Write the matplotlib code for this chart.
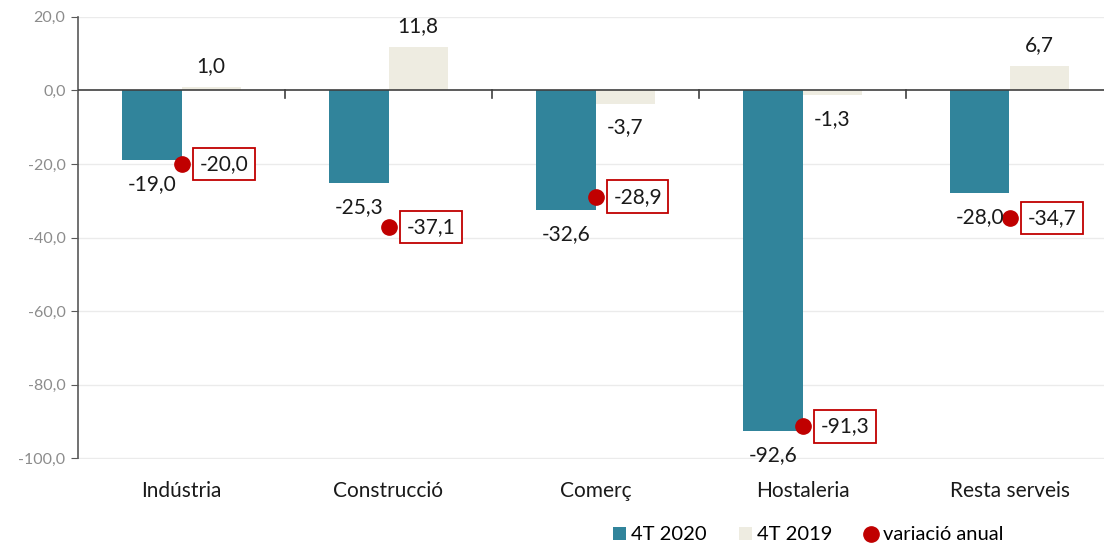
import matplotlib
matplotlib.use("Agg")
import matplotlib.pyplot as plt
import matplotlib.transforms as mtransforms
from matplotlib.lines import Line2D
from matplotlib.patches import Patch
import numpy as np

categories = ["Indústria", "Construcció", "Comerç", "Hostaleria", "Resta serveis"]
t2020 = [-19.0, -25.3, -32.6, -92.6, -28.0]
t2019 = [1.0, 11.8, -3.7, -1.3, 6.7]
variacio = [-20.0, -37.1, -28.9, -91.3, -34.7]
yticks = [20, 0, -20, -40, -60, -80, -100]

BLUE = "#31849B"
BEIGE = "#EEECE1"
RED = "#C00000"
FONT = "Lato"

def fmt(v):
    return f"{v:.1f}".replace(".", ",")

plt.rcParams["font.family"] = [FONT, "DejaVu Sans"]

fig = plt.figure(figsize=(11.04, 5.44), dpi=100)
W, H = 1104, 544
left, right = 78, 78 + 5 * 207
top, bottom = 16.7, 458.5
ax = fig.add_axes([left / W, 1 - bottom / H, (right - left) / W, (bottom - top) / H])
ax.set_xlim(0, 5)
ax.set_ylim(-100, 20)

x = np.arange(len(categories)) + 0.5
bw = 0.287
ax.bar(x - bw / 2, t2020, width=bw, color=BLUE, zorder=2)
ax.bar(x + bw / 2, t2019, width=bw, color=BEIGE, zorder=2)
ax.plot(x, variacio, linestyle="none", marker="o", markersize=11,
        color=RED, zorder=4)

# grid
for yv in yticks:
    if yv != 0:
        ax.axhline(yv, color="#EBEBEB", lw=1, zorder=0)
ax.axhline(0, color="#404040", lw=1.2, zorder=3)

# axes styling
for s in ["top", "right", "bottom"]:
    ax.spines[s].set_visible(False)
ax.spines["left"].set_color("#595959")
ax.spines["left"].set_linewidth(1.2)
ax.set_yticks(yticks)
ax.set_yticklabels([fmt(v) for v in yticks], fontsize=11.5, color="#8C8C8C")
ax.tick_params(axis="y", length=5, color="#595959", pad=4)
ax.set_xticks([])

# category boundary ticks at the zero line
for b in range(1, 5):
    ax.plot([b, b], [0, -2.2], color="#404040", lw=1.2, zorder=3, clip_on=False)

# category labels
trans = mtransforms.blended_transform_factory(ax.transData, ax.transAxes)
for xi, c in zip(x, categories):
    ax.annotate(c, (xi, 0), xycoords=trans, xytext=(0, -23.5), textcoords="offset points",
                ha="center", va="center", fontsize=15, color="#1a1a1a")

# value labels
def bar_label(xc, v):
    off = 15 if v >= 0 else -17
    ax.annotate(fmt(v), (xc, v), xytext=(0, off), textcoords="offset points",
                ha="center", va="center", fontsize=15, color="#1a1a1a", zorder=5)

for xi, v in zip(x, t2020):
    bar_label(xi - bw / 2, v)
for xi, v in zip(x, t2019):
    bar_label(xi + bw / 2, v)
for xi, v in zip(x, variacio):
    ax.annotate(fmt(v), (xi, v), xytext=(13, 0), textcoords="offset points",
                ha="left", va="center", fontsize=15, color="#1a1a1a", zorder=6,
                bbox=dict(boxstyle="square,pad=0.3", fc="white", ec=RED, lw=1.3))

handles = [
    Patch(facecolor=BLUE, edgecolor="none", label="4T 2020"),
    Patch(facecolor=BEIGE, edgecolor="none", label="4T 2019"),
    Line2D([], [], linestyle="none", marker="o", markersize=11, color=RED, label="variació anual"),
]
leg = fig.legend(handles=handles, loc="center", bbox_to_anchor=(808 / W, 1 - 535 / H),
                 ncol=3, frameon=False, fontsize=14.5, handlelength=0.65, handleheight=0.65,
                 handletextpad=0.25, columnspacing=1.6)

fig.savefig("out.png", dpi=100)
